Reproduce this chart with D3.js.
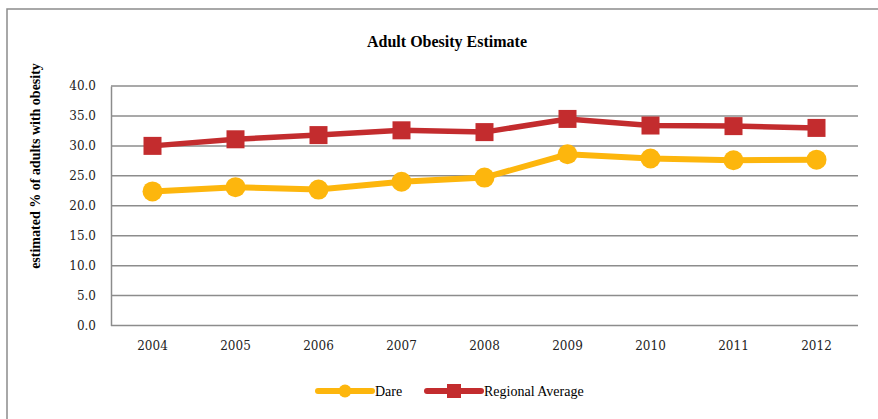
<!DOCTYPE html>
<html>
<head>
<meta charset="utf-8">
<script src="https://cdn.jsdelivr.net/npm/d3@7"></script>
<style>
  body { margin: 0; background: #fff; }
</style>
</head>
<body>
<div id="chart"></div>
<script>
// data
var years = ["2004", "2005", "2006", "2007", "2008", "2009", "2010", "2011", "2012"];
var dare = [22.4, 23.1, 22.7, 24.0, 24.7, 28.6, 27.9, 27.6, 27.7];
var regional = [30.0, 31.1, 31.8, 32.6, 32.3, 34.5, 33.4, 33.3, 33.0];
var yTicks = [0, 5, 10, 15, 20, 25, 30, 35, 40];

var W = 878, H = 419;
var margin = { top: 86, left: 111, right: 20, bottom: 94 };
var width = 858 - margin.left,
    height = 325.5 - margin.top;

var svg = d3.select("#chart")
    .append("svg")
    .attr("width", W)
    .attr("height", H);

// outer frame (right/bottom run off the picture)
svg.append("rect")
    .attr("x", 7).attr("y", 9)
    .attr("width", 900).attr("height", 500)
    .attr("fill", "none")
    .attr("stroke", "#8c8c8c")
    .attr("stroke-width", 1.5);

svg.append("text")
    .attr("x", 447).attr("y", 47)
    .attr("text-anchor", "middle")
    .attr("font-family", "'Liberation Serif', serif")
    .attr("font-weight", "bold")
    .attr("font-size", 16)
    .text("Adult Obesity Estimate");

var g = svg.append("g")
    .attr("transform", "translate(" + margin.left + "," + margin.top + ")");

var x = d3.scaleBand().domain(years).range([0, width]);
var y = d3.scaleLinear().domain([0, 40]).range([height, 0]);

// gridlines
g.selectAll(".grid")
    .data(yTicks)
    .enter().append("line")
    .attr("x1", 0).attr("x2", width)
    .attr("y1", function(d) { return y(d); })
    .attr("y2", function(d) { return y(d); })
    .attr("stroke", "#8c8c8c")
    .attr("stroke-width", 1.5);

// y axis
var yAxis = g.append("g")
    .call(d3.axisLeft(y).tickValues(yTicks).tickSize(0).tickPadding(15)
        .tickFormat(d3.format(".1f")));
yAxis.select(".domain").attr("stroke", "#8c8c8c").attr("stroke-width", 1.5);
yAxis.selectAll("text")
    .attr("font-family", "'DejaVu Serif', serif")
    .attr("font-size", 12)
    .attr("fill", "#222");

// x axis
var xAxis = g.append("g")
    .attr("transform", "translate(0," + height + ")")
    .call(d3.axisBottom(x).tickSize(0).tickPadding(16));
xAxis.select(".domain").remove();
xAxis.selectAll("text")
    .attr("font-family", "'DejaVu Serif', serif")
    .attr("font-size", 12)
    .attr("fill", "#222");

svg.append("text")
    .attr("transform", "translate(40,166) rotate(-90)")
    .attr("text-anchor", "middle")
    .attr("font-family", "'Liberation Serif', serif")
    .attr("font-weight", "bold")
    .attr("font-size", 14)
    .text("estimated  % of adults with obesity");

var cx = function(d, i) { return x(years[i]) + x.bandwidth() / 2; };
var line = d3.line()
    .x(function(d, i) { return cx(d, i); })
    .y(function(d) { return y(d); });

var yellow = "#FDB60D", red = "#C32C2E";

// regional average
g.append("path")
    .datum(regional)
    .attr("d", line)
    .attr("fill", "none")
    .attr("stroke", red)
    .attr("stroke-width", 5.5);
g.selectAll(".reg")
    .data(regional)
    .enter().append("rect")
    .attr("x", function(d, i) { return cx(d, i) - 9; })
    .attr("y", function(d) { return y(d) - 9; })
    .attr("width", 18).attr("height", 18)
    .attr("fill", red);

// dare
g.append("path")
    .datum(dare)
    .attr("d", line)
    .attr("fill", "none")
    .attr("stroke", yellow)
    .attr("stroke-width", 6);
g.selectAll(".dare")
    .data(dare)
    .enter().append("circle")
    .attr("cx", function(d, i) { return cx(d, i); })
    .attr("cy", function(d) { return y(d); })
    .attr("r", 10)
    .attr("fill", yellow);

// legend
var legend = svg.append("g").attr("transform", "translate(0,391)");
legend.append("line")
    .attr("x1", 318).attr("x2", 372)
    .attr("stroke", yellow).attr("stroke-width", 6).attr("stroke-linecap", "round");
legend.append("circle").attr("cx", 345).attr("r", 6.5).attr("fill", yellow);
legend.append("text")
    .attr("x", 375).attr("y", 5)
    .attr("font-family", "'Liberation Serif', serif")
    .attr("font-size", 14)
    .text("Dare");

legend.append("line")
    .attr("x1", 427).attr("x2", 481)
    .attr("stroke", red).attr("stroke-width", 6).attr("stroke-linecap", "round");
legend.append("rect").attr("x", 447).attr("y", -7).attr("width", 14).attr("height", 14).attr("fill", red);
legend.append("text")
    .attr("x", 484).attr("y", 5)
    .attr("font-family", "'Liberation Serif', serif")
    .attr("font-size", 14)
    .text("Regional  Average");
</script>
</body>
</html>
